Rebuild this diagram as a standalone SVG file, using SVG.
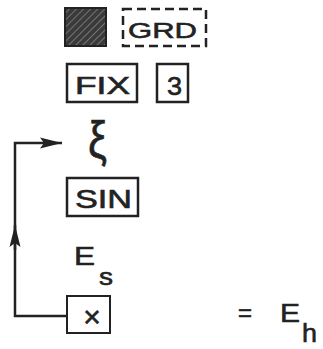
<svg xmlns="http://www.w3.org/2000/svg" width="323" height="349" viewBox="0 0 323 349">
<defs>
<pattern id="hatch" width="5" height="5" patternUnits="userSpaceOnUse" patternTransform="rotate(45)">
<rect width="5" height="5" fill="#3a3a3a"/>
<line x1="0" y1="0" x2="0" y2="5" stroke="#9a9a9a" stroke-width="1.2"/>
</pattern>
<marker id="ah" viewBox="0 0 22 12" refX="22" refY="6" markerWidth="22" markerHeight="12" orient="auto" markerUnits="userSpaceOnUse">
<path d="M0,0.5 L22,6 L0,11.5 L4,6 Z" fill="#222"/>
</marker>
</defs>
<style>
.key{fill:none;stroke:#222;stroke-width:2.5}
.t{font-family:"Liberation Sans",Arial,sans-serif;fill:#222;stroke:#222;stroke-width:0.6}
.c{fill:none;stroke:#222;stroke-width:2.5}
</style>
<rect width="323" height="349" fill="#fff"/>
<g id="shift">
<rect x="65" y="8" width="41" height="38" fill="url(#hatch)" stroke="#222" stroke-width="2"/>
</g>
<g id="grd">
<rect x="123" y="9" width="83" height="37" class="key" stroke-dasharray="9,5"/>
<text x="128" y="38" class="t" font-size="22" textLength="69" lengthAdjust="spacingAndGlyphs">GRD</text>
</g>
<g id="fix">
<rect x="67" y="64" width="70" height="38" class="key"/>
<text x="75" y="94" class="t" font-size="23" textLength="55" lengthAdjust="spacingAndGlyphs">FIX</text>
</g>
<g id="three">
<rect x="157" y="64" width="31" height="38" class="key"/>
<text x="167" y="95" class="t" font-size="25" textLength="15" lengthAdjust="spacingAndGlyphs">3</text>
</g>
<g id="xi">
<text x="88" y="158" class="t" font-size="52" stroke-width="0" textLength="19" lengthAdjust="spacingAndGlyphs">ξ</text>
</g>
<g id="sin">
<rect x="67" y="178" width="71" height="38" class="key"/>
<text x="75" y="208" class="t" font-size="25" textLength="57" lengthAdjust="spacingAndGlyphs">SIN</text>
</g>
<g id="es">
<text x="74" y="265" class="t" font-size="26" textLength="21" lengthAdjust="spacingAndGlyphs">E</text>
<text x="99" y="285" class="t" font-size="24" textLength="14" lengthAdjust="spacingAndGlyphs">s</text>
</g>
<g id="mult">
<rect x="67" y="296" width="43" height="37" fill="none" stroke="#222" stroke-width="2"/>
<text x="92" y="327" class="t" font-size="30" text-anchor="middle">×</text>
</g>
<g id="result">
<text x="245" y="321" class="t" font-size="24" text-anchor="middle">=</text>
<text x="280" y="322" class="t" font-size="26" textLength="20" lengthAdjust="spacingAndGlyphs">E</text>
<text x="302" y="342" class="t" font-size="26" textLength="15" lengthAdjust="spacingAndGlyphs">h</text>
</g>
<g id="connectors">
<path d="M67,316 L15,316 L15,225" class="c" marker-end="url(#ah)"/>
<path d="M15,250 L15,143 L62,143" class="c" marker-end="url(#ah)"/>
</g>
</svg>
